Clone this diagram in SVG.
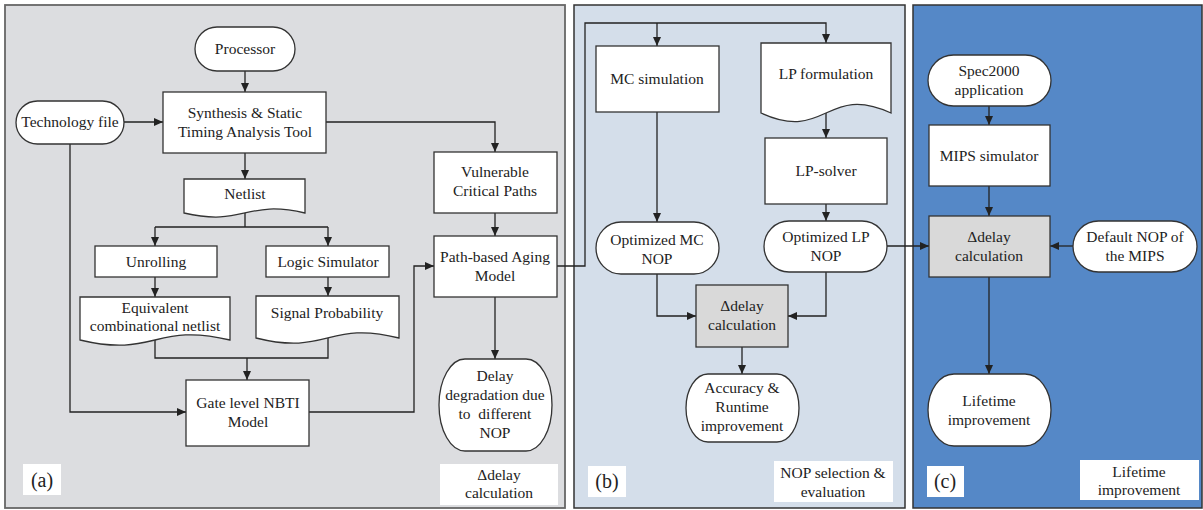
<svg xmlns="http://www.w3.org/2000/svg" width="1203" height="510" viewBox="0 0 1203 510">
<defs>
<marker id="ah" markerWidth="9" markerHeight="8" refX="9" refY="4" orient="auto" markerUnits="userSpaceOnUse">
<path d="M0,0 L9,4 L0,8 Z" fill="#222"/>
</marker>
<style>
text{font-family:"Liberation Serif","Times New Roman",serif;font-size:15.5px;fill:#222;text-anchor:middle}
.nd{fill:#fff;stroke:#333;stroke-width:1.3}
.gr{fill:#d9d9d9;stroke:#333;stroke-width:1.3}
.ln{fill:none;stroke:#222;stroke-width:1.3}
.ar{fill:none;stroke:#222;stroke-width:1.3;marker-end:url(#ah)}
.lb{fill:#fff;stroke:none}
.big{font-size:20px}
</style>
</defs>
<rect x="0" y="0" width="1203" height="510" fill="#fff"/>
<g id="panel-a"><rect x="5" y="5" width="560" height="503" fill="#dcdde0" stroke="#666" stroke-width="1.8"/></g>
<g id="panel-b"><rect x="574" y="5" width="331" height="503" fill="#d4deea" stroke="#333" stroke-width="1.5"/></g>
<g id="panel-c"><rect x="913" y="5" width="289" height="503" fill="#5588c7" stroke="#333" stroke-width="1.5"/></g>

<g id="connectors">
<path class="ar" d="M245,71 V92"/>
<path class="ar" d="M124,122 H163"/>
<path class="ar" d="M245,153 V179"/>
<path class="ln" d="M245,213 V227 M155,227 H328"/>
<path class="ar" d="M155,227 V246"/>
<path class="ar" d="M328,227 V246"/>
<path class="ar" d="M155,277 V297"/>
<path class="ar" d="M328,277 V296"/>
<path class="ln" d="M155,340 V358 H328 V338"/>
<path class="ar" d="M247,358 V380"/>
<path class="ar" d="M70,144 V412 H186"/>
<path class="ar" d="M309,412 H414 V266 H434"/>
<path class="ar" d="M326,122 H495 V152"/>
<path class="ar" d="M495,213 V236"/>
<path class="ar" d="M495,297 V359"/>
<path class="ar" d="M557,266 H585 V23 H826 V43"/>
<path class="ar" d="M657,23 V46"/>
<path class="ar" d="M657,112 V222"/>
<path class="ar" d="M826,113 V138"/>
<path class="ar" d="M826,204 V221"/>
<path class="ar" d="M657,274 V316 H696"/>
<path class="ar" d="M826,272 V316 H788"/>
<path class="ar" d="M742,347 V374"/>
<path class="ar" d="M887,246 H929"/>
<path class="ar" d="M989,106 V125"/>
<path class="ar" d="M989,186 V216"/>
<path class="ar" d="M1073,246 H1050"/>
<path class="ar" d="M989,277 V374"/>
</g>

<g id="processor"><rect class="nd" x="195" y="27" width="100" height="44" rx="22" ry="22"/><text x="245" y="54">Processor</text></g>
<g id="synthesis"><rect class="nd" x="163" y="92" width="163" height="61"/><text x="245" y="118">Synthesis &amp; Static</text><text x="245" y="137">Timing Analysis Tool</text></g>
<g id="technology"><rect class="nd" x="16" y="101" width="108" height="43" rx="21.5" ry="21.5"/><text x="70" y="127">Technology file</text></g>
<g id="netlist"><path class="nd" d="M184,179 H305 V213 C245,199 245,227 184,213 Z"/><text x="245" y="199">Netlist</text></g>
<g id="unrolling"><rect class="nd" x="95" y="246" width="122" height="31"/><text x="156" y="267">Unrolling</text></g>
<g id="logic-sim"><rect class="nd" x="266" y="246" width="123" height="31"/><text x="328" y="267">Logic Simulator</text></g>
<g id="equivalent"><path class="nd" d="M80,297 H230 V340 C155,322 155,358 80,340 Z"/><text x="155" y="313">Equivalent</text><text x="155" y="331">combinational netlist</text></g>
<g id="signal"><path class="nd" d="M256,296 H399 V338 C328,320 328,356 256,338 Z"/><text x="327" y="318">Signal Probability</text></g>
<g id="gate-level"><rect class="nd" x="186" y="380" width="123" height="66"/><text x="248" y="408">Gate level NBTI</text><text x="248" y="427">Model</text></g>
<g id="vulnerable"><rect class="nd" x="434" y="152" width="123" height="61"/><text x="495" y="177">Vulnerable</text><text x="495" y="196">Critical Paths</text></g>
<g id="path-based"><rect class="nd" x="434" y="236" width="123" height="61"/><text x="495" y="262">Path-based Aging</text><text x="495" y="281">Model</text></g>
<g id="delay-deg"><rect class="nd" x="439" y="359" width="113" height="92" rx="26" ry="46"/><text x="495" y="381">Delay</text><text x="495" y="400">degradation due</text><text x="495" y="419" xml:space="preserve">to  different</text><text x="495" y="438">NOP</text></g>
<g id="label-a"><rect class="lb" x="23" y="464" width="38" height="31"/><text class="big" x="42" y="487">(a)</text></g>
<g id="title-a"><rect class="lb" x="440" y="464" width="118" height="41"/><text x="499" y="480">Δdelay</text><text x="499" y="498">calculation</text></g>

<g id="mc-sim"><rect class="nd" x="596" y="46" width="123" height="66"/><text x="657" y="84">MC simulation</text></g>
<g id="lp-form"><path class="nd" d="M761,43 H891 V113 C826,83 826,143 761,113 Z"/><text x="826" y="79">LP formulation</text></g>
<g id="lp-solver"><rect class="nd" x="765" y="138" width="122" height="66"/><text x="826" y="176">LP-solver</text></g>
<g id="opt-mc"><rect class="nd" x="596" y="222" width="123" height="52" rx="25" ry="26"/><text x="657" y="245">Optimized MC</text><text x="657" y="264">NOP</text></g>
<g id="opt-lp"><rect class="nd" x="764" y="221" width="123" height="51" rx="25" ry="25.5"/><text x="826" y="242">Optimized LP</text><text x="826" y="261">NOP</text></g>
<g id="delta-b"><rect class="gr" x="696" y="285" width="92" height="62"/><text x="742" y="311">Δdelay</text><text x="742" y="330">calculation</text></g>
<g id="accuracy"><rect class="nd" x="686" y="374" width="113" height="68" rx="22" ry="34"/><text x="742" y="393">Accuracy &amp;</text><text x="742" y="412">Runtime</text><text x="742" y="431">improvement</text></g>
<g id="label-b"><rect class="lb" x="588" y="466" width="38" height="31"/><text class="big" x="607" y="488">(b)</text></g>
<g id="title-b"><rect class="lb" x="774" y="461" width="119" height="41"/><text x="833" y="478">NOP selection &amp;</text><text x="833" y="497">evaluation</text></g>

<g id="spec2000"><rect class="nd" x="928" y="55" width="123" height="51" rx="25.5" ry="25.5"/><text x="989" y="76">Spec2000</text><text x="989" y="95">application</text></g>
<g id="mips"><rect class="nd" x="929" y="125" width="121" height="61"/><text x="989" y="161">MIPS simulator</text></g>
<g id="delta-c"><rect class="gr" x="929" y="216" width="121" height="61"/><text x="989" y="242">Δdelay</text><text x="989" y="261">calculation</text></g>
<g id="default-nop"><rect class="nd" x="1073" y="221" width="124" height="51" rx="25.5" ry="25.5"/><text x="1135" y="242">Default NOP of</text><text x="1135" y="261">the MIPS</text></g>
<g id="lifetime"><rect class="nd" x="928" y="374" width="123" height="72" rx="26" ry="36"/><text x="989" y="406">Lifetime</text><text x="989" y="425">improvement</text></g>
<g id="label-c"><rect class="lb" x="927" y="466" width="37" height="31"/><text class="big" x="945" y="488">(c)</text></g>
<g id="title-c"><rect class="lb" x="1080" y="460" width="119" height="40"/><text x="1139" y="477">Lifetime</text><text x="1139" y="495">improvement</text></g>
</svg>
